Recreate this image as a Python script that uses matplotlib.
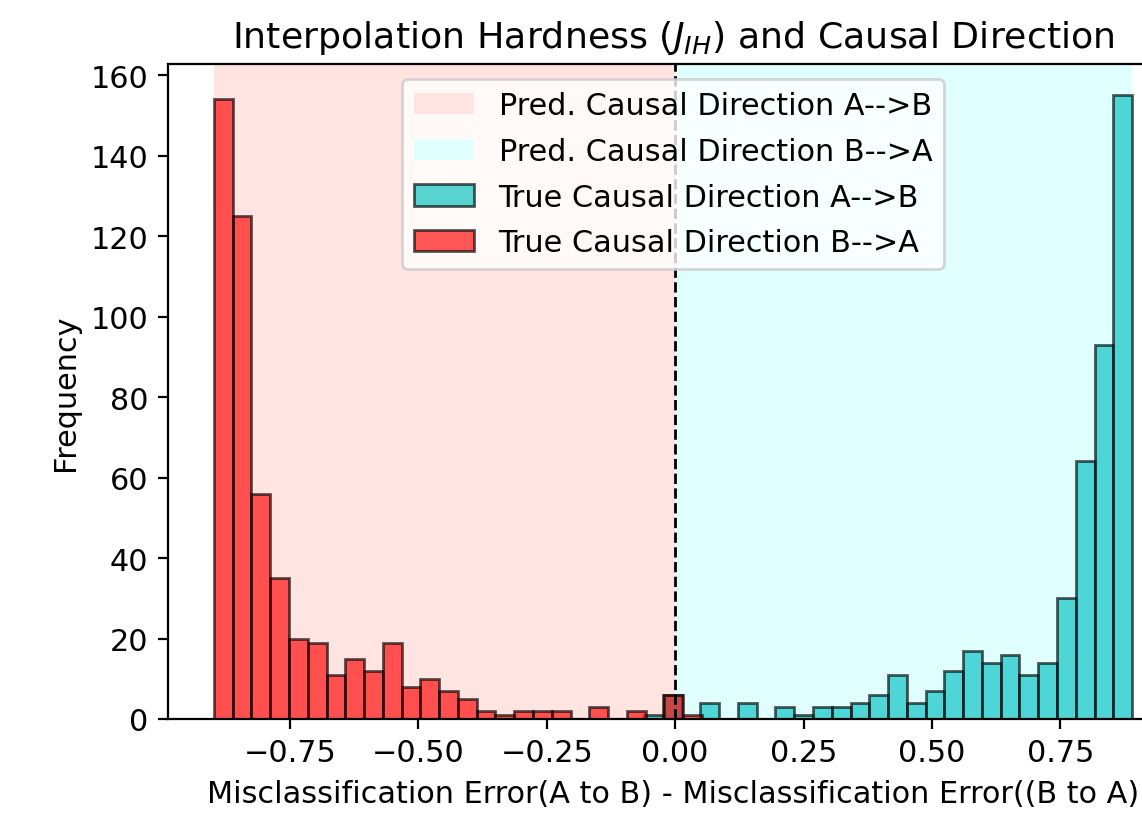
import numpy as np
import matplotlib
matplotlib.use("Agg")
import matplotlib.pyplot as plt

# ---- data ----
red_range = (-0.8985, 0.052)     # True Causal Direction B-->A
teal_range = (-0.0606, 0.890)    # True Causal Direction A-->B
n_bins = 26
red_counts = [154, 125, 56, 35, 20, 19, 11, 15, 12, 19, 8, 10, 7, 5,
              2, 1, 2, 2, 2, 0, 3, 0, 2, 0, 6, 1]
teal_counts = [1, 6, 0, 4, 0, 4, 0, 3, 1, 3, 3, 4, 6, 11, 4, 7,
               12, 17, 14, 16, 11, 14, 30, 64, 93, 155]

title = r"Interpolation Hardness ($J_{IH}$) and Causal Direction"
xlabel = "Misclassification Error(A to B) - Misclassification Error((B to A)"
ylabel = "Frequency"
labels = ["Pred. Causal Direction A-->B", "Pred. Causal Direction B-->A",
          "True Causal Direction A-->B", "True Causal Direction B-->A"]

red_edges = np.linspace(red_range[0], red_range[1], n_bins + 1)
teal_edges = np.linspace(teal_range[0], teal_range[1], n_bins + 1)

plt.rcParams["font.size"] = 10.9

fig = plt.figure(figsize=(5.71, 4.10), dpi=200)
ax = fig.add_axes([168 / 1142, 100 / 820, 1010 / 1142, 655 / 820])

ax.axvspan(red_edges[0], 0, color="mistyrose", label=labels[0], lw=0)
ax.axvspan(0, teal_edges[-1], color="lightcyan", label=labels[1], lw=0)

ax.hist(teal_edges[:-1], bins=teal_edges, weights=teal_counts,
        color="c", alpha=0.65, edgecolor="black", label=labels[2])
ax.hist(red_edges[:-1], bins=red_edges, weights=red_counts,
        color="red", alpha=0.65, edgecolor="black", label=labels[3])

ax.axvline(0, color="black", linestyle="--", linewidth=1)

ax.set_title(title)
ax.set_xlabel(xlabel)
ax.set_ylabel(ylabel)
ax.legend(loc="upper center", labelspacing=0.55)

fig.savefig("out.png", dpi=200)
